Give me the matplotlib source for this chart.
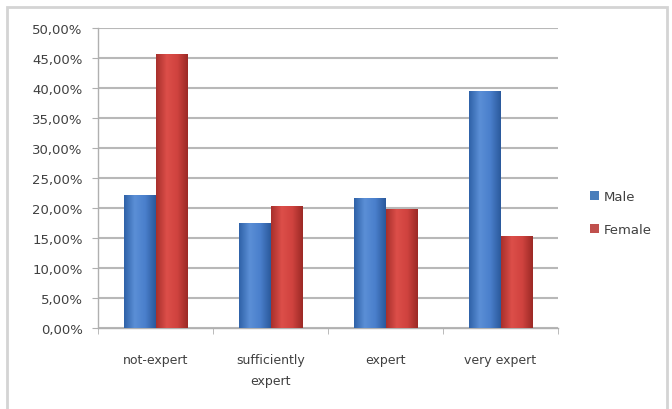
import numpy as np
import matplotlib
matplotlib.use('Agg')
import matplotlib.pyplot as plt
from matplotlib.patches import Rectangle
from matplotlib.colors import LinearSegmentedColormap
from matplotlib.ticker import FuncFormatter, FixedLocator

categories = ['not-expert', 'sufficiently\nexpert', 'expert', 'very expert']
male = [22.2, 17.5, 21.7, 39.5]
female = [45.7, 20.3, 19.9, 15.3]
series_names = ['Male', 'Female']

blue_cmap = LinearSegmentedColormap.from_list('b', ['#2f62a8', '#5b8fd6', '#4a7fcc', '#2b5a9c'])
red_cmap = LinearSegmentedColormap.from_list('r', ['#a8302c', '#dc4e49', '#d0433f', '#9c2a26'])

fig = plt.figure(figsize=(6.72, 4.10), dpi=100)
ax = fig.add_axes([98 / 672, 1 - 329 / 410, (558 - 98) / 672, 300 / 410])

# light frame of the chart area
fig.patches.append(Rectangle((7 / 672, -0.05), (667 - 7) / 672, (410 - 8) / 410 + 0.05,
                             transform=fig.transFigure, fill=False,
                             edgecolor='#d4d4d4', linewidth=2.0))

x = np.arange(len(categories))
w = 0.27
grad = np.linspace(0, 1, 64).reshape(1, -1)

bars_m = ax.bar(x - w / 2, male, w, color='#4a7ebb', edgecolor='none', zorder=3, label=series_names[0])
bars_f = ax.bar(x + w / 2, female, w, color='#c0504d', edgecolor='none', zorder=3, label=series_names[1])

for bars, cmap in ((bars_m, blue_cmap), (bars_f, red_cmap)):
    for b in bars:
        x0, y0 = b.get_x(), b.get_y()
        im = ax.imshow(grad, cmap=cmap, aspect='auto', zorder=4,
                       extent=(x0, x0 + b.get_width(), y0, y0 + b.get_height()))
        im.set_clip_path(b)

ax.set_xlim(-0.5, len(categories) - 0.5)
ax.set_ylim(0, 50)
ax.set_yticks(np.arange(0, 51, 5))
ax.yaxis.set_major_formatter(FuncFormatter(lambda v, p: ('%.2f' % v).replace('.', ',') + '%'))
ax.grid(axis='y', color='#b8b8b8', linewidth=1.5, zorder=0)
ax.set_axisbelow(True)

ax.set_xticks(x)
ax.set_xticklabels(categories, fontsize=9, color='#404040', linespacing=1.8)
ax.xaxis.set_minor_locator(FixedLocator(np.arange(-0.5, len(categories), 1)))
ax.tick_params(axis='x', which='major', length=0, pad=18)
ax.tick_params(axis='x', which='minor', length=4, color='#b0b0b0')
ax.tick_params(axis='y', length=4, color='#b0b0b0', labelsize=9.5, labelcolor='#404040', pad=7)

for s in ('top', 'right'):
    ax.spines[s].set_visible(False)
for s in ('left', 'bottom'):
    ax.spines[s].set_color('#b0b0b0')
    ax.spines[s].set_linewidth(1.0)

leg = ax.legend(loc='center left', bbox_to_anchor=(1.044, 0.383), frameon=False,
                fontsize=9.5, handlelength=0.7, handleheight=0.7, handletextpad=0.3,
                labelspacing=1.5)
for t in leg.get_texts():
    t.set_color('#404040')

fig.savefig('out.png', dpi=100)
